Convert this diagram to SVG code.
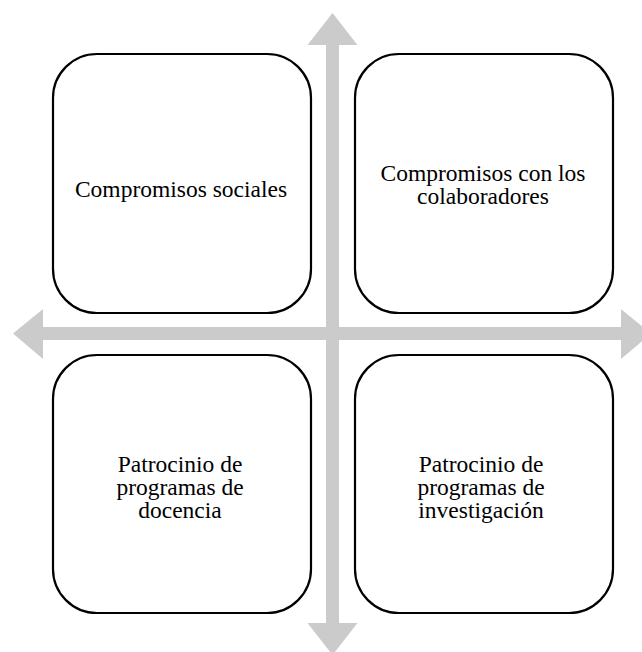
<svg xmlns="http://www.w3.org/2000/svg" width="642" height="652" viewBox="0 0 642 652">
<style>
.box{fill:#ffffff;stroke:#000000;stroke-width:2.2}
.arrow{fill:#cbcbcb;stroke:none}
.lbl{font-family:"Liberation Serif","Times New Roman",serif;font-size:23.5px;fill:#000000;text-anchor:middle}
</style>
<rect width="642" height="652" fill="#ffffff"/>
<g id="connectors">
<polygon class="arrow" points="332.5,13 357.5,45 339,45 339,623 357.5,623 332.5,655 307.5,623 326,623 326,45 307.5,45"/>
<polygon class="arrow" points="13,333.5 43,309 43,327 621,327 621,309 651,333.5 621,359 621,340 43,340 43,359"/>
</g>
<g id="node-sociales">
<rect class="box" x="53" y="54" width="258" height="259" rx="44" ry="44"/>
<text class="lbl" x="181" y="197">Compromisos sociales</text>
</g>
<g id="node-colaboradores">
<rect class="box" x="355" y="54" width="258" height="259" rx="44" ry="44"/>
<text class="lbl" x="483" y="181">Compromisos con los</text>
<text class="lbl" x="483" y="204">colaboradores</text>
</g>
<g id="node-docencia">
<rect class="box" x="53" y="355" width="258" height="258" rx="44" ry="44"/>
<text class="lbl" x="180" y="472">Patrocinio de</text>
<text class="lbl" x="180" y="495">programas de</text>
<text class="lbl" x="180" y="518">docencia</text>
</g>
<g id="node-investigacion">
<rect class="box" x="355" y="355" width="258" height="258" rx="44" ry="44"/>
<text class="lbl" x="481" y="472">Patrocinio de</text>
<text class="lbl" x="481" y="495">programas de</text>
<text class="lbl" x="481" y="518">investigación</text>
</g>
</svg>
